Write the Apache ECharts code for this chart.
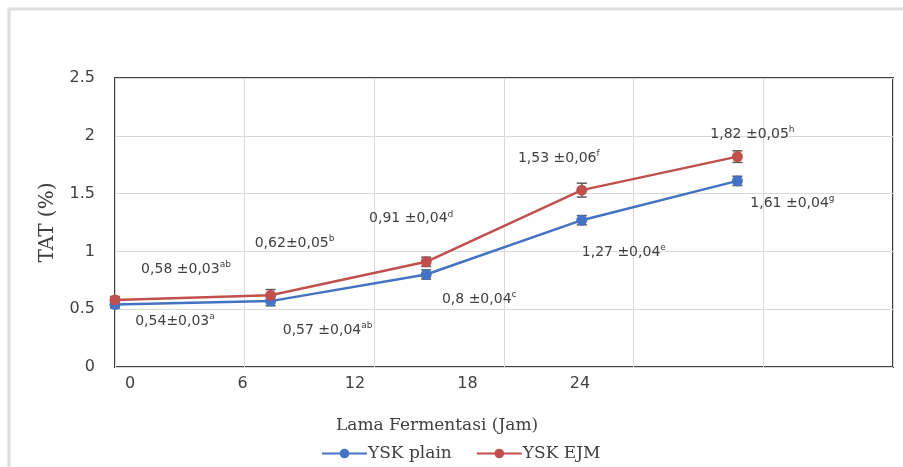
<!DOCTYPE html>
<html>
<head>
<meta charset="utf-8">
<script src="https://cdn.jsdelivr.net/npm/echarts@6/dist/echarts.min.js"></script>
<style>
html,body{margin:0;padding:0;background:#fff;}
#chart{width:903px;height:467px;}
</style>
</head>
<body>
<div id="chart"></div>
<script>
// ---- data ----
const hours = [0, 6, 12, 18, 24];
const tickLabels = ['0', '6', '12', '18', '24'];
const plainValues = [0.54, 0.57, 0.80, 1.27, 1.61];
const plainErrors = [0.03, 0.04, 0.04, 0.04, 0.04];
const plainLetters = ['a', 'ab', 'c', 'e', 'g'];
const ejmValues = [0.58, 0.62, 0.91, 1.53, 1.82];
const ejmErrors = [0.03, 0.05, 0.04, 0.06, 0.05];
const ejmLetters = ['ab', 'b', 'd', 'f', 'h'];
const plainLabelText = ['0,54±0,03', '0,57 ±0,04', '0,8 ±0,04', '1,27 ±0,04', '1,61 ±0,04'];
const ejmLabelText = ['0,58 ±0,03', '0,62±0,05', '0,91 ±0,04', '1,53 ±0,06', '1,82 ±0,05'];
const seriesNames = ['YSK plain', 'YSK EJM'];

// ---- styling (label offsets, px) ----
const plainLabelOffsets = [[60, 17], [57, 29], [53, 25], [42, 32], [55, 22]];
const ejmLabelOffsets = [[71, -31], [24, -52], [-15, -43], [-23, -32], [15, -22]];
const BLUE = '#4472C4', RED = '#C0504D';
const TXT = '#404040';

const chart = echarts.init(document.getElementById('chart'));

function lineData(values, texts, letters, offsets) {
  return values.map((v, i) => ({
    value: [hours[i], v],
    label: {
      show: true,
      position: 'inside',
      offset: offsets[i],
      formatter: '{n|' + texts[i] + '}{s|' + letters[i] + '}'
    }
  }));
}

function errData(values, errs) {
  return values.map((v, i) => [hours[i], v, errs[i]]);
}

function errRender(params, api) {
  const x = api.value(0), v = api.value(1), e = api.value(2);
  const hi = api.coord([x, v + e]);
  const lo = api.coord([x, v - e]);
  const w = 5;
  const st = { stroke: '#595959', lineWidth: 1.5 };
  return {
    type: 'group',
    children: [
      { type: 'line', shape: { x1: hi[0], y1: hi[1], x2: lo[0], y2: lo[1] }, style: st },
      { type: 'line', shape: { x1: hi[0] - w, y1: hi[1], x2: hi[0] + w, y2: hi[1] }, style: st },
      { type: 'line', shape: { x1: lo[0] - w, y1: lo[1], x2: lo[0] + w, y2: lo[1] }, style: st }
    ]
  };
}

const richLabel = {
  n: { fontFamily: 'DejaVu Sans', fontSize: 14, color: TXT, lineHeight: 18 },
  s: { fontFamily: 'DejaVu Sans', fontSize: 9, color: TXT, lineHeight: 18, verticalAlign: 'top' }
};

const option = {
  backgroundColor: '#ffffff',
  animation: false,
  graphic: [
    { type: 'rect', shape: { x: 9, y: 9, width: 1000, height: 1000 }, style: { fill: 'none', stroke: '#dedede', lineWidth: 3 }, silent: true }
  ],
  title: {
    text: 'Lama Fermentasi (Jam)',
    left: 331, top: 412,
    textStyle: { fontFamily: 'DejaVu Serif', fontSize: 17, fontWeight: 'normal', color: TXT }
  },
  legend: {
    data: seriesNames,
    left: 316, top: 440,
    itemWidth: 45, itemHeight: 12, itemGap: 24,
    textStyle: { fontFamily: 'DejaVu Serif', fontSize: 17, color: TXT, padding: [0, 0, 0, -4] }
  },
  grid: [
    { left: 115, top: 78, width: 778, height: 289, show: true, borderColor: '#404040', borderWidth: 2 },
    { left: 73.75, top: 366, width: 562.5, height: 1 }
  ],
  xAxis: [
    {
      type: 'value', gridIndex: 0, min: 0, max: 30, interval: 5,
      axisLine: { show: false }, axisTick: { show: false }, axisLabel: { show: false },
      splitLine: { show: true, lineStyle: { color: '#d9d9d9', width: 1 } }
    },
    {
      type: 'category', gridIndex: 1, data: tickLabels, boundaryGap: true,
      axisLine: { show: false }, axisTick: { show: false }, splitLine: { show: false },
      axisLabel: { fontFamily: 'DejaVu Sans', fontSize: 16, color: TXT, margin: 9, interval: 0 }
    }
  ],
  yAxis: [
    {
      type: 'value', gridIndex: 0, min: 0, max: 2.5, interval: 0.5,
      name: 'TAT (%)', nameLocation: 'middle', nameGap: 57,
      nameTextStyle: { fontFamily: 'DejaVu Serif', fontSize: 20, color: TXT },
      axisLine: { show: false }, axisTick: { show: false },
      axisLabel: { fontFamily: 'DejaVu Sans', fontSize: 16, color: TXT, margin: 20 },
      splitLine: { show: true, lineStyle: { color: '#d9d9d9', width: 1 } }
    },
    { type: 'value', gridIndex: 1, show: false }
  ],
  series: [
    {
      type: 'custom', name: 'plain-err', xAxisIndex: 0, yAxisIndex: 0,
      renderItem: errRender, data: errData(plainValues, plainErrors), z: 3, silent: true
    },
    {
      type: 'custom', name: 'ejm-err', xAxisIndex: 0, yAxisIndex: 0,
      renderItem: errRender, data: errData(ejmValues, ejmErrors), z: 3, silent: true
    },
    {
      type: 'line', name: seriesNames[0], xAxisIndex: 0, yAxisIndex: 0,
      data: lineData(plainValues, plainLabelText, plainLetters, plainLabelOffsets),
      symbol: 'circle', symbolSize: 11, color: BLUE,
      lineStyle: { width: 2.5, color: BLUE }, itemStyle: { color: BLUE },
      label: { rich: richLabel }, z: 4
    },
    {
      type: 'line', name: seriesNames[1], xAxisIndex: 0, yAxisIndex: 0,
      data: lineData(ejmValues, ejmLabelText, ejmLetters, ejmLabelOffsets),
      symbol: 'circle', symbolSize: 11, color: RED,
      lineStyle: { width: 2.5, color: RED }, itemStyle: { color: RED },
      label: { rich: richLabel }, z: 5
    }
  ]
};
chart.setOption(option);
</script>
</body>
</html>
